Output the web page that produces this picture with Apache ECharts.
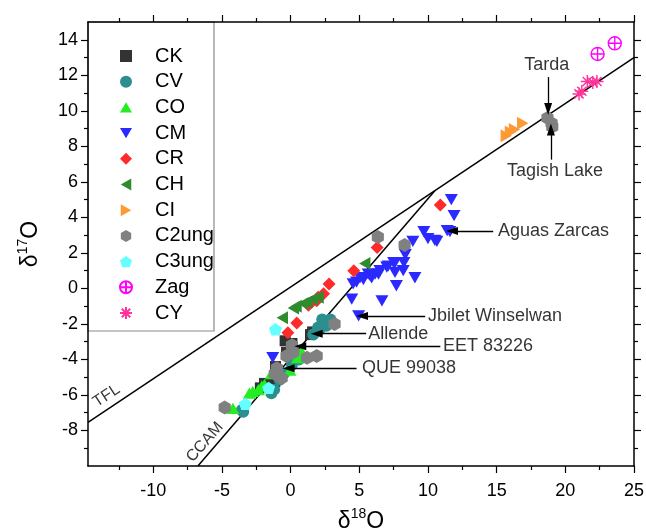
<!DOCTYPE html>
<html>
<head>
<meta charset="utf-8">
<script src="https://cdn.jsdelivr.net/npm/echarts@6/dist/echarts.min.js"></script>
<style>
  html, body { margin: 0; padding: 0; background: #fff; }
  #chart { width: 646px; height: 530px; }
</style>
</head>
<body>
<div id="chart"></div>
<script>
// Oxygen three-isotope plot of carbonaceous chondrite groups (δ18O vs δ17O)
const groupNames = ['CK', 'CV', 'CO', 'CM', 'CR', 'CH', 'CI', 'C2ung', 'C3ung', 'Zag', 'CY'];

const CK = [[1.45, -2.6], [1.6, -2.45], [0.1, -3.1], [-0.4, -2.95], [-0.3, -3.6], [-1.1, -4.4],
  [-1.15, -5.25], [-1.9, -5.35], [-2.2, -5.6]];
const CV = [[2.9, -1.75], [2.6, -1.85], [2.3, -1.75], [2.6, -2.1], [2.0, -2.2], [2.1, -2.3], [1.65, -2.6],
  [0.6, -4.0], [0.1, -4.3], [-0.5, -4.8], [-0.8, -5.15], [-1.2, -5.7], [-1.4, -5.9], [-3.55, -6.85], [-3.45, -6.95]];
const CO = [[-4.2, -6.75], [-3.0, -5.9], [-2.75, -5.8], [-2.35, -5.7], [-2.1, -5.5], [-1.9, -5.4],
  [-1.4, -4.8], [-0.05, -4.6], [0.5, -3.9], [0.8, -3.55]];
const CM = [[11.7, 5.0], [11.9, 4.1], [11.4, 3.25], [11.6, 3.2], [10.65, 2.65], [10.5, 2.7], [10.0, 2.8],
  [9.7, 3.2], [8.9, 2.65], [8.35, 1.9], [8.25, 1.45], [8.2, 1.0], [7.6, 1.45], [7.5, 1.45], [7.1, 1.25],
  [7.0, 1.2], [7.6, 0.9], [6.5, 1.0], [6.4, 0.8], [6.15, 0.8], [5.8, 0.7], [5.65, 0.8], [5.9, 0.6],
  [5.3, 0.5], [5.05, 0.6], [4.8, 0.35], [4.55, 0.25], [9.05, 0.6], [7.7, 0.15], [4.45, -0.6],
  [6.65, -0.7], [4.95, -1.55], [-1.3, -3.9]];
const CR = [[10.9, 4.7], [6.3, 2.3], [4.6, 1.0], [2.8, 0.25], [2.4, -0.3], [2.0, -0.5], [1.9, -0.7],
  [1.5, -0.8], [1.3, -0.95], [0.45, -1.95], [-0.2, -2.5]];
const CH = [[5.4, 1.4], [2.0, -0.5], [1.6, -0.6], [1.2, -0.75], [0.9, -0.85], [0.4, -1.0], [0.2, -1.1], [-0.6, -1.65]];
const CI = [[15.7, 8.6], [16.0, 8.8], [16.3, 8.95], [16.9, 9.3]];
const C2ung = [[18.7, 9.6], [19.0, 9.3], [19.05, 9.1], [6.35, 2.9], [8.3, 2.45], [3.2, -2.0], [1.9, -3.8],
  [1.2, -3.9], [0.1, -3.2], [0.2, -3.6], [-0.3, -3.8], [-1.0, -4.5], [-1.15, -4.8], [-0.65, -5.05], [-4.8, -6.7]];
const C3ung = [[-1.1, -2.3], [-1.6, -5.6], [-3.3, -6.5]];
const Zag = [[22.35, 13.2], [23.6, 13.8]];
const CY = [[21.0, 10.95], [21.2, 11.1], [21.6, 11.65], [22.0, 11.6], [22.3, 11.65]];

// reference lines (end points)
const tflLine = [[-14.75, -7.55], [25, 13.0]];
const ccamLine = [[-6.75, -10], [10.5, 5.5]];

// tick positions
const xMajor = [-10, -5, 0, 5, 10, 15, 20, 25];
const xMinor = [-12.5, -7.5, -2.5, 2.5, 7.5, 12.5, 17.5, 22.5];
const yMajor = [-8, -6, -4, -2, 0, 2, 4, 6, 8, 10, 12, 14];
const yMinor = [-9, -7, -5, -3, -1, 1, 3, 5, 7, 9, 11, 13];

// labelled meteorites: text anchor and arrow (tail -> head)
const noteNames = ['Tarda', 'Tagish Lake', 'Aguas Zarcas', 'Jbilet Winselwan', 'Allende', 'EET 83226', 'QUE 99038'];
const noteAnchors = [[18.65, 12.55], [19.25, 6.6], [15.1, 3.23], [10.0, -1.56], [5.65, -2.55], [11.1, -3.26], [5.2, -4.49]];
const arrowTails = [[18.75, 11.9], [18.95, 7.25], [14.75, 3.23], [9.8, -1.56], [5.5, -2.55], [10.9, -3.26], [4.8, -4.49]];
const arrowHeads = [[18.75, 10.1], [18.95, 8.95], [11.75, 3.23], [5.2, -1.56], [1.9, -2.55], [0.7, -3.26], [-0.15, -4.49]];

const FONT = '"Liberation Sans", Arial, sans-serif';

const downTri = 'path://M0,0 L10,0 L5,8.7 Z';
const upTri = 'path://M5,0 L10,8.7 L0,8.7 Z';
const square = 'path://M0,0 L10,0 L10,10 L0,10 Z';
const diamond = 'path://M5,0 L10,5 L5,10 L0,5 Z';
const leftTri = 'path://M8.7,0 L8.7,10 L0,5 Z';
const rightTri = 'path://M0,0 L0,10 L8.7,5 Z';
const hexagon = 'path://M5,0 L9.33,2.5 L9.33,7.5 L5,10 L0.67,7.5 L0.67,2.5 Z';
const pentagon = 'path://M5,0 L10,3.63 L8.09,9.51 L1.91,9.51 L0,3.63 Z';
const circleCross = 'path://M10,5 A5,5 0 1,1 0,5 A5,5 0 1,1 10,5 Z M5,0 L5,10 M0,5 L10,5';
const asterisk = 'path://M5,0 L5,10 M0,5 L10,5 M1.46,1.46 L8.54,8.54 M8.54,1.46 L1.46,8.54';

const groupData = { CK, CV, CO, CM, CR, CH, CI, C2ung, C3ung, Zag, CY };
const groupStyle = {
  CK:    { symbol: square,   size: 11, fill: '#333333' },
  CV:    { symbol: 'circle', size: 12, fill: '#2b8f8f' },
  CO:    { symbol: upTri,    size: 13, fill: '#22ee22' },
  CM:    { symbol: downTri,  size: 13, fill: '#2a2aff' },
  CR:    { symbol: diamond,  size: 13, fill: '#ff2a2a' },
  CH:    { symbol: leftTri,  size: 13, fill: '#2e8b2e' },
  CI:    { symbol: rightTri, size: 13, fill: '#ff9933' },
  C2ung: { symbol: hexagon,  size: 14, fill: '#808080' },
  C3ung: { symbol: pentagon, size: 13, fill: '#66ffff' },
  Zag:   { symbol: circleCross, size: 13, stroke: '#ff00ff' },
  CY:    { symbol: asterisk, size: 13, stroke: '#ff3399' }
};

function itemStyleFor(st) {
  return st.stroke
    ? { color: 'rgba(0,0,0,0)', borderColor: st.stroke, borderWidth: 1.4, opacity: 1 }
    : { color: st.fill, opacity: 1 };
}

const groupSeries = groupNames.map(function (name) {
  const st = groupStyle[name];
  return {
    name: name,
    type: 'scatter',
    symbol: st.symbol,
    symbolSize: st.size,
    symbolKeepAspect: true,
    itemStyle: itemStyleFor(st),
    data: groupData[name],
    z: 3
  };
});

function majorAxis(pos, min, max, ticks, showLabels, extra) {
  return Object.assign({
    type: 'value', position: pos, min: min, max: max,
    axisLine: { show: true, onZero: false, lineStyle: { color: '#000', width: 1.5 } },
    axisTick: { show: true, inside: false, length: 7, customValues: ticks, lineStyle: { color: '#000', width: 1.2 } },
    axisLabel: showLabels
      ? { show: true, customValues: ticks, color: '#000', fontSize: 18, fontFamily: FONT }
      : { show: false },
    splitLine: { show: false }
  }, extra || {});
}
function minorAxis(pos, min, max, ticks) {
  return {
    type: 'value', position: pos, min: min, max: max,
    axisLine: { show: false, onZero: false },
    axisTick: { show: true, inside: false, length: 4, customValues: ticks, lineStyle: { color: '#000', width: 1.2 } },
    axisLabel: { show: false },
    splitLine: { show: false }
  };
}

const X_MIN = -14.75, X_MAX = 25, Y_MIN = -10, Y_MAX = 15;

const nameRich = {
  d: { fontSize: 23, fontFamily: FONT, color: '#000', verticalAlign: 'bottom', lineHeight: 26 },
  s: { fontSize: 14, fontFamily: FONT, color: '#000', verticalAlign: 'top', lineHeight: 26 }
};

const option = {
  animation: false,
  backgroundColor: '#fff',
  textStyle: { fontFamily: FONT },
  grid: { left: 88, right: 12, top: 22, bottom: 64, containLabel: false, outerBoundsMode: 'none' },
  xAxis: [
    majorAxis('bottom', X_MIN, X_MAX, xMajor, true, {
      axisLabel: { show: true, customValues: xMajor, color: '#000', fontSize: 18, fontFamily: FONT, margin: 16 },
      name: '{d|δ}{s|18}{d|O}', nameLocation: 'middle', nameGap: 41,
      nameTextStyle: { rich: nameRich }
    }),
    minorAxis('bottom', X_MIN, X_MAX, xMinor),
    majorAxis('top', X_MIN, X_MAX, xMajor, false),
    minorAxis('top', X_MIN, X_MAX, xMinor)
  ],
  yAxis: [
    majorAxis('left', Y_MIN, Y_MAX, yMajor, true, {
      axisLabel: { show: true, customValues: yMajor, color: '#000', fontSize: 18, fontFamily: FONT, margin: 10 },
      name: '{d|δ}{s|17}{d|O}', nameLocation: 'middle', nameGap: 46,
      nameTextStyle: { rich: nameRich }
    }),
    minorAxis('left', Y_MIN, Y_MAX, yMinor),
    majorAxis('right', Y_MIN, Y_MAX, yMajor, false),
    minorAxis('right', Y_MIN, Y_MAX, yMinor)
  ],
  legend: {
    orient: 'vertical',
    left: 114, top: 41,
    itemWidth: 12, itemHeight: 12, itemGap: 5.7,
    data: groupNames,
    textStyle: { fontSize: 20, lineHeight: 20, fontFamily: FONT, color: '#000', padding: [0, 0, 0, 18] },
    selectedMode: false
  },
  graphic: [{
    type: 'rect', z: 0,
    shape: { x: 88, y: 22, width: 126, height: 309 },
    style: { fill: 'none', stroke: '#8a8a8a', lineWidth: 1.2 }
  }],
  series: groupSeries.concat([
    {
      name: 'TFL', type: 'line', data: tflLine, symbol: 'none', z: 2,
      lineStyle: { color: '#000', width: 1.5 }, silent: true
    },
    {
      name: 'CCAM', type: 'line', data: ccamLine, symbol: 'none', z: 2,
      lineStyle: { color: '#000', width: 1.5 }, silent: true
    },
    {
      name: 'lineLabels', type: 'scatter', symbolSize: 0, silent: true, z: 4,
      data: [
        { name: 'TFL', value: [-13.4, -6.05], label: { rotate: 33.5 } },
        { name: 'CCAM', value: [-6.24, -8.66], label: { rotate: 49 } }
      ],
      label: { show: true, position: 'inside', formatter: '{b}', color: '#000', fontSize: 16, fontFamily: FONT }
    },
    {
      name: 'notes', type: 'scatter', symbolSize: 0, silent: true, z: 5,
      data: noteNames.map(function (n, i) {
        const centered = i < 2;
        return {
          name: n, value: noteAnchors[i],
          label: centered ? { position: 'inside' } : { position: 'right', distance: 0 }
        };
      }),
      label: { show: true, formatter: '{b}', color: '#000', fontSize: 18, fontFamily: FONT },
      markLine: {
        silent: true, animation: false,
        symbol: ['none', 'triangle'], symbolSize: [8, 12],
        lineStyle: { color: '#000', width: 1.3, type: 'solid' },
        label: { show: false },
        data: arrowTails.map(function (t, i) {
          return [{ coord: t }, { coord: arrowHeads[i] }];
        })
      }
    }
  ])
};

const chart = echarts.init(document.getElementById('chart'), null, { renderer: 'canvas' });
chart.setOption(option);
</script>
</body>
</html>
